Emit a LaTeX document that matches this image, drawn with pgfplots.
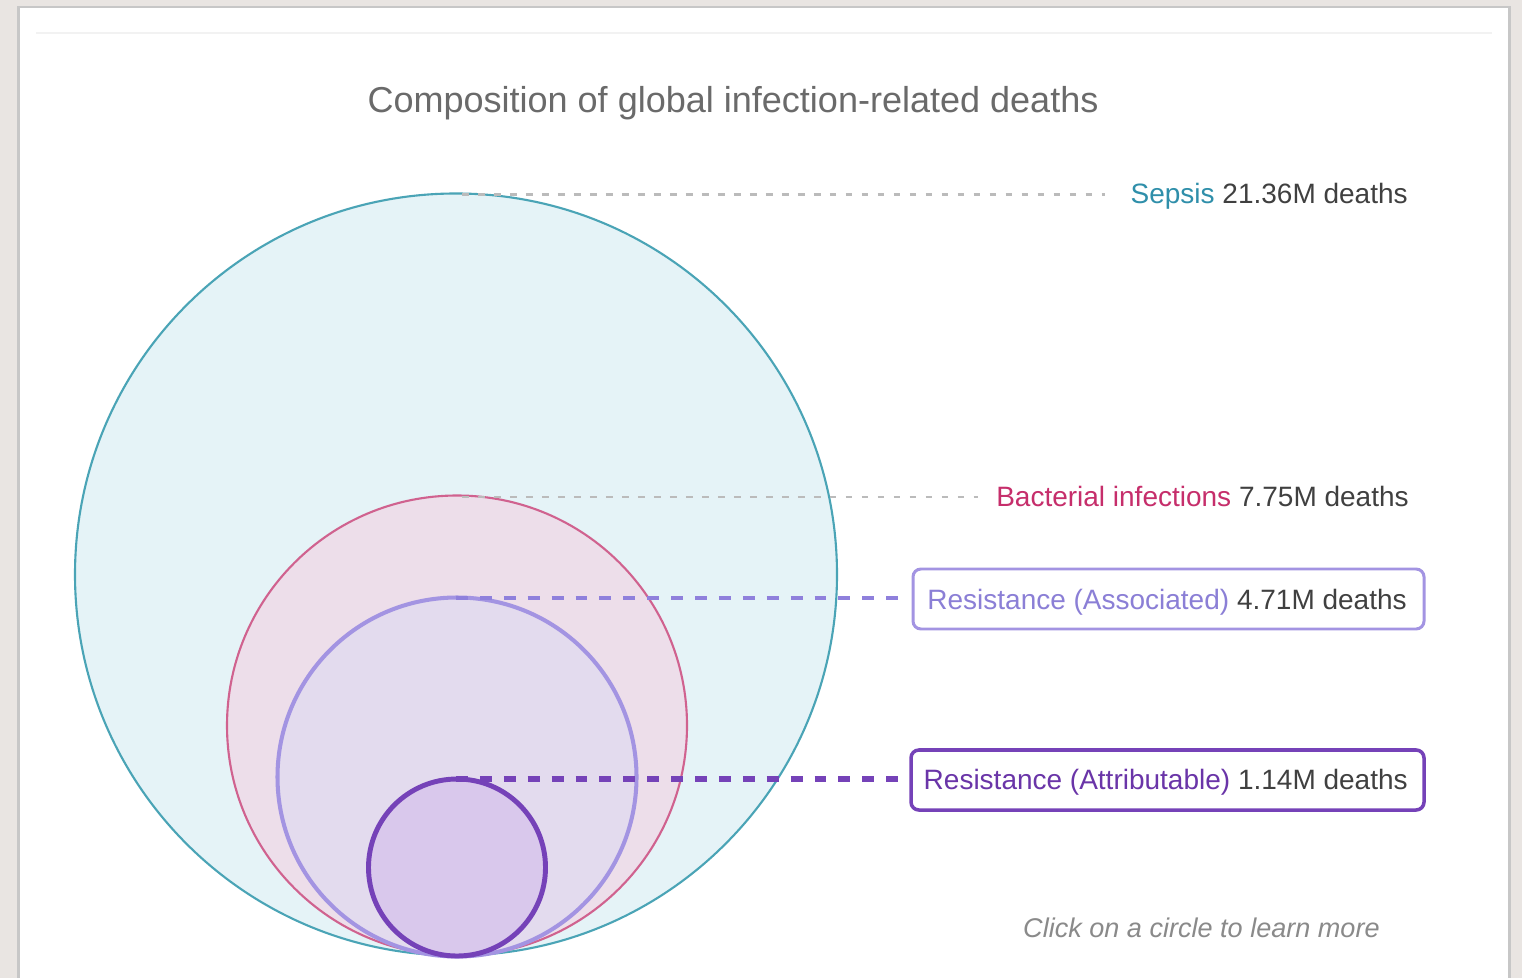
\documentclass[border=0pt]{standalone}
\usepackage{pgfplots}
\pgfplotsset{compat=1.18}
\usepackage{pgfplotstable}
\usepackage{fontspec}
\setmainfont{Liberation Sans}

\definecolor{pagebg}{HTML}{E9E5E2}
\definecolor{sepsisfill}{HTML}{E5F3F7}
\definecolor{sepsisline}{HTML}{4AA4B6}
\definecolor{sepsistxt}{HTML}{2F8FAA}
\definecolor{bactfill}{HTML}{EDDEEA}
\definecolor{bactline}{HTML}{D0628F}
\definecolor{bacttxt}{HTML}{C62E6B}
\definecolor{assocfill}{HTML}{E3DBEE}
\definecolor{assocline}{HTML}{A394E2}
\definecolor{assocdash}{HTML}{8F80DC}
\definecolor{assoctxt}{HTML}{8B7FD6}
\definecolor{attrfill}{HTML}{D9C8EC}
\definecolor{attrline}{HTML}{7542B8}
\definecolor{attrtxt}{HTML}{6A35A8}
\definecolor{numtxt}{HTML}{404040}
\definecolor{titletxt}{HTML}{6A6A6A}
\definecolor{clicktxt}{HTML}{8A8A8A}
\definecolor{dashgray}{HTML}{BBBBBB}

% circle centres and radii, in picture pixels (y measured upwards)
\pgfplotstableread{
x y r
456 403.5 381
}\sepsis
\pgfplotstableread{
x y r
457 252.5 230
}\bact
\pgfplotstableread{
x y r
457 201 179.5
}\assoc
\pgfplotstableread{
x y r
457 110.5 88.5
}\attr

\newcommand\lab{\fontsize{15.93}{19}\selectfont}

\begin{document}
\begin{tikzpicture}
\begin{axis}[
  scale only axis, width=30.44cm, height=19.56cm,
  xmin=0, xmax=1522, ymin=0, ymax=978,
  hide axis, clip=false, clip marker paths=true,
]
% background card
\fill[pagebg] (axis cs:0,0) rectangle (axis cs:1522,978);
\fill[black!22] (axis cs:17,0) rectangle (axis cs:1511,972);
\fill[white] (axis cs:20,0) rectangle (axis cs:1508,970);
\draw[black!5, line width=1.2pt] (axis cs:36,945) -- (axis cs:1492,945);

% circles
\addplot[scatter, only marks, mark=*,
  scatter/use mapped color={draw=sepsisline, fill=sepsisfill},
  mark options={line width=1.2pt},
  visualization depends on={\thisrow{r}*0.569055 \as \rad},
  scatter/@pre marker code/.append style={/tikz/mark size=\rad},
] table[x=x,y=y] {\sepsis};
\addplot[scatter, only marks, mark=*,
  scatter/use mapped color={draw=bactline, fill=bactfill},
  mark options={line width=1.2pt},
  visualization depends on={\thisrow{r}*0.569055 \as \rad},
  scatter/@pre marker code/.append style={/tikz/mark size=\rad},
] table[x=x,y=y] {\bact};
\addplot[scatter, only marks, mark=*,
  scatter/use mapped color={draw=assocline, fill=assocfill},
  mark options={line width=2.3pt},
  visualization depends on={\thisrow{r}*0.569055 \as \rad},
  scatter/@pre marker code/.append style={/tikz/mark size=\rad},
] table[x=x,y=y] {\assoc};
\addplot[scatter, only marks, mark=*,
  scatter/use mapped color={draw=attrline, fill=attrfill},
  mark options={line width=2.8pt},
  visualization depends on={\thisrow{r}*0.569055 \as \rad},
  scatter/@pre marker code/.append style={/tikz/mark size=\rad},
] table[x=x,y=y] {\attr};

% leader lines
\addplot[dashgray, line width=1.5pt, dash pattern=on 3.8pt off 5.3pt] coordinates {(462,783.5) (1105,783.5)};
\addplot[dashgray, line width=1.5pt, dash pattern=on 3.8pt off 5.3pt] coordinates {(462,481) (978,481)};
\addplot[assocdash, line width=2.8pt, dash pattern=on 6.8pt off 6.8pt] coordinates {(456,380) (905,380)};
\addplot[attrline, line width=2.9pt, dash pattern=on 6.8pt off 6.8pt] coordinates {(456,199) (905,199)};

% boxes
\draw[assocline, line width=1.7pt, rounded corners=4.5pt, fill=white] (axis cs:913,349) rectangle (axis cs:1424,409);
\draw[attrline, line width=2pt, rounded corners=4.5pt, fill=white] (axis cs:911,168) rectangle (axis cs:1424,228);

% labels
\node[anchor=base, inner sep=0] at (axis cs:733,865) {\fontsize{20.5}{24}\selectfont\textcolor{titletxt}{Composition of global infection-related deaths}};
\node[anchor=base east, inner sep=0] at (axis cs:1408,774) {\lab\textcolor{sepsistxt}{Sepsis} \textcolor{numtxt}{21.36M deaths}};
\node[anchor=base east, inner sep=0] at (axis cs:1409,471) {\lab\textcolor{bacttxt}{Bacterial infections} \textcolor{numtxt}{7.75M deaths}};
\node[anchor=base east, inner sep=0] at (axis cs:1407,369) {\lab\textcolor{assoctxt}{Resistance (Associated)} \textcolor{numtxt}{4.71M deaths}};
\node[anchor=base east, inner sep=0] at (axis cs:1408,189) {\lab\textcolor{attrtxt}{Resistance (Attributable)} \textcolor{numtxt}{1.14M deaths}};
\node[anchor=base east, inner sep=0] at (axis cs:1380,41) {\fontsize{15.4}{18}\selectfont\itshape\textcolor{clicktxt}{Click on a circle to learn more}};
\end{axis}
\end{tikzpicture}
\end{document}
